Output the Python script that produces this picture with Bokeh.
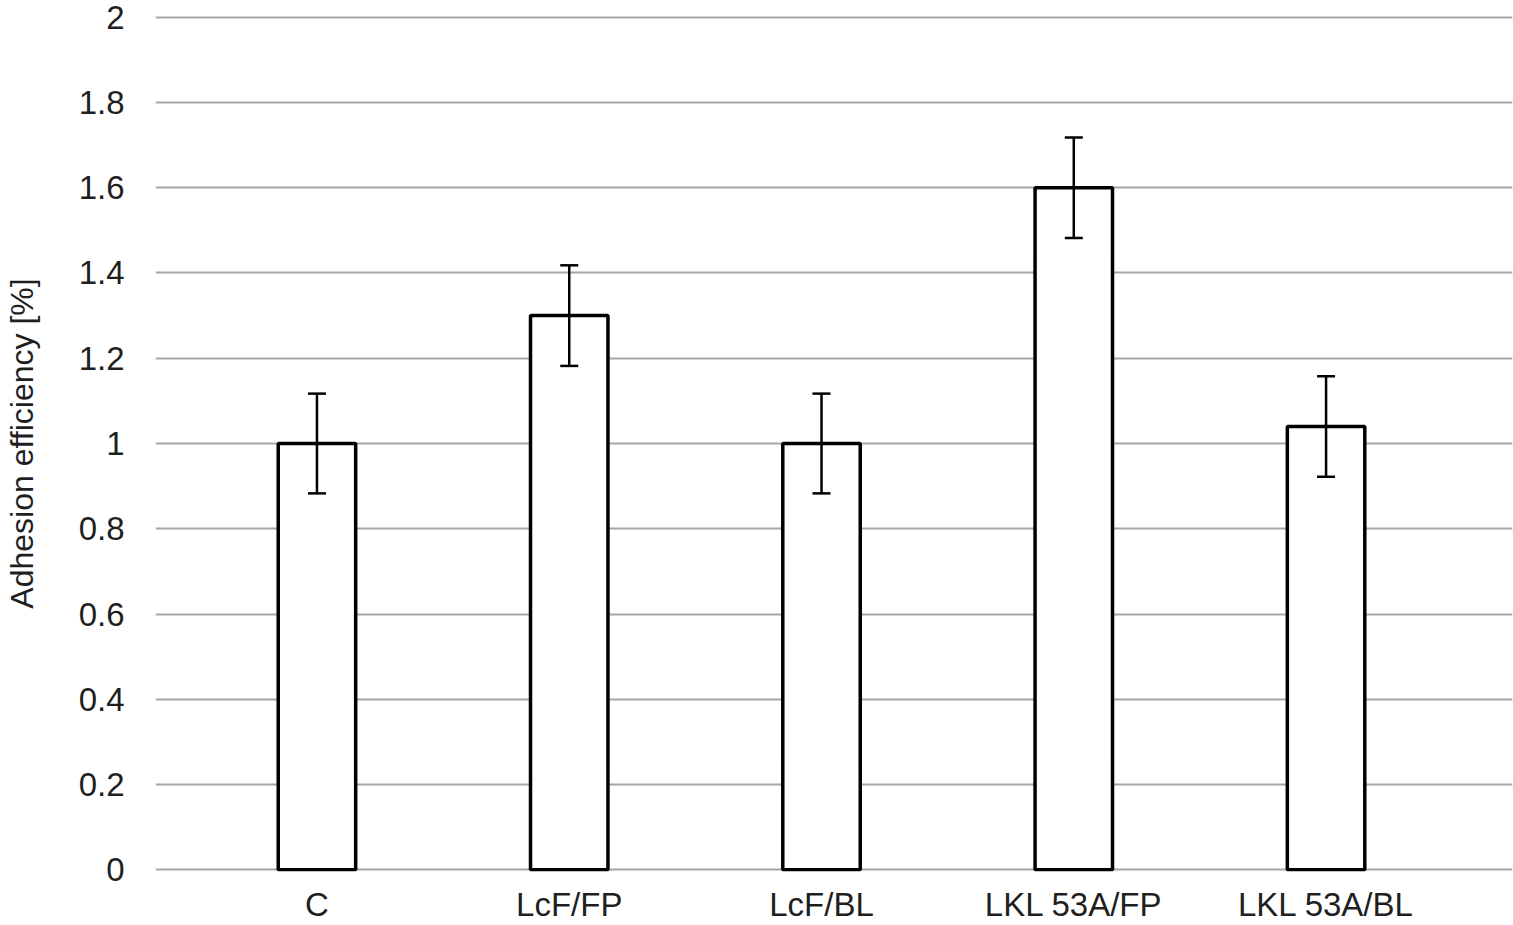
from bokeh.plotting import figure
from bokeh.models import Range1d, FixedTicker, Whisker, ColumnDataSource, TeeHead
from bokeh.embed import file_html
from bokeh.resources import INLINE

categories = ["C", "LcF/FP", "LcF/BL", "LKL 53A/FP", "LKL 53A/BL"]
values = [1.0, 1.3, 1.0, 1.6, 1.04]
errors = [0.117, 0.118, 0.117, 0.118, 0.118]
y_ticks = [0, 0.2, 0.4, 0.6, 0.8, 1, 1.2, 1.4, 1.6, 1.8, 2]
y_tick_labels = ["0", "0.2", "0.4", "0.6", "0.8", "1", "1.2", "1.4", "1.6", "1.8", "2"]
y_title = "Adhesion efficiency [%]"

xs = list(range(len(categories)))
src = ColumnDataSource(dict(
    x=xs,
    top=values,
    upper=[v + e for v, e in zip(values, errors)],
    lower=[v - e for v, e in zip(values, errors)],
))

FONT = "Liberation Sans"
TXT = "#1f1f1f"

p = figure(width=1513, height=925, output_backend="svg", toolbar_location=None,
           x_range=Range1d(-0.640, 4.739), y_range=Range1d(-0.004, 2.004),
           min_border_left=155, min_border_right=1, min_border_top=15,
           min_border_bottom=40)
p.outline_line_color = None
p.background_fill_color = "white"
p.border_fill_color = "white"

p.vbar(x="x", top="top", bottom=0, width=0.307, source=src,
       fill_color="white", line_color="black", line_width=3.5)

wh = Whisker(source=src, base="x", upper="upper", lower="lower",
             line_color="black", line_width=2.5, level="overlay",
             upper_head=TeeHead(size=18, line_color="black", line_width=2.5),
             lower_head=TeeHead(size=18, line_color="black", line_width=2.5))
p.add_layout(wh)

# grid
p.xgrid.grid_line_color = None
p.ygrid.ticker = FixedTicker(ticks=y_ticks)
p.ygrid.grid_line_color = "#a6a6a6"
p.ygrid.grid_line_width = 2

# y axis
p.yaxis.ticker = FixedTicker(ticks=y_ticks)
p.yaxis.major_label_overrides = {t: l for t, l in zip(y_ticks, y_tick_labels)}
p.yaxis.axis_line_color = None
p.yaxis.major_tick_line_color = None
p.yaxis.minor_tick_line_color = None
p.yaxis.major_label_text_font = FONT
p.yaxis.major_label_text_font_size = "33px"
p.yaxis.major_label_text_color = TXT
p.yaxis.major_label_standoff = 25
p.yaxis.axis_label = y_title
p.yaxis.axis_label_text_font = FONT
p.yaxis.axis_label_text_font_size = "32px"
p.yaxis.axis_label_text_font_style = "normal"
p.yaxis.axis_label_text_color = TXT
p.yaxis.axis_label_standoff = 36

# x axis
p.xaxis.ticker = FixedTicker(ticks=xs)
p.xaxis.major_label_overrides = {i: c for i, c in zip(xs, categories)}
p.xaxis.axis_line_color = None
p.xaxis.major_tick_line_color = None
p.xaxis.minor_tick_line_color = None
p.xaxis.major_label_text_font = FONT
p.xaxis.major_label_text_font_size = "33px"
p.xaxis.major_label_text_color = TXT
p.xaxis.major_label_standoff = 8

open("out.html", "w").write(file_html(p, INLINE))
